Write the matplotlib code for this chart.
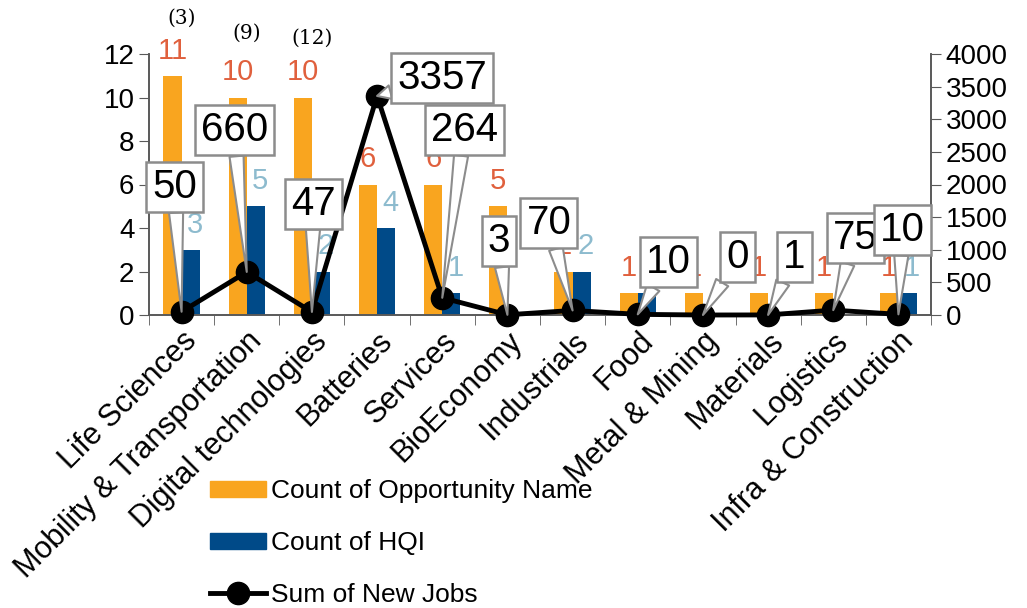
import matplotlib.pyplot as plt
import matplotlib.patches as mpatches
from matplotlib.lines import Line2D
import numpy as np

plt.rcParams['font.family'] = ['Liberation Sans', 'DejaVu Sans']

categories = ["Life Sciences", "Mobility & Transportation", "Digital technologies",
              "Batteries", "Services", "BioEconomy", "Industrials", "Food",
              "Metal & Mining", "Materials", "Logistics", "Infra & Construction"]
opportunities = [11, 10, 10, 6, 6, 5, 2, 1, 1, 1, 1, 1]
hqi = [3, 5, 2, 4, 1, 0, 2, 1, 0, 0, 0, 1]
new_jobs = [50, 660, 47, 3357, 264, 3, 70, 10, 0, 1, 75, 10]
extra_notes = {0: "(3)", 1: "(9)", 2: "(12)"}

# callout offsets in points (dx, dy) from each point
callout_offsets = [(-5, 90), (-9, 102), (1, 78), (47, 13), (16, 121), (-6, 53),
                   (-17, 63), (22, 38), (25, 42), (19, 42), (16, 52), (3, 61)]
note_heights = [13.65, 12.97, 12.74]

orange = "#F9A51F"
blue = "#004A88"
orange_lbl = "#E0603D"
blue_lbl = "#8DBBCE"

fig = plt.figure(figsize=(10.27, 6.08), dpi=100)
ax = fig.add_axes([149 / 1027, 1 - 315 / 608, (931 - 149) / 1027, (315 - 54) / 608])
ax2 = ax.twinx()

x = np.arange(len(categories))
w = 0.28
ax.bar(x - w / 2, opportunities, w, color=orange, zorder=2)
ax.bar(x + w / 2, hqi, w, color=blue, zorder=2)

for i, v in enumerate(opportunities):
    ax.annotate(str(v), (x[i] - w / 2, v), xytext=(0, 8), textcoords="offset points",
                ha="center", va="bottom", fontsize=21, color=orange_lbl)
for i, v in enumerate(hqi):
    if v > 0:
        ax.annotate(str(v), (x[i] + w / 2, v), xytext=(3, 8), textcoords="offset points",
                    ha="center", va="bottom", fontsize=21, color=blue_lbl)

for i, s in extra_notes.items():
    ax.text(x[i], note_heights[i], s, ha="center", va="center", fontsize=14.5,
            family="DejaVu Serif", clip_on=False)

ax.set_ylim(0, 12)
ax.set_yticks(range(0, 13, 2))
ax2.set_ylim(0, 4000)
ax2.set_yticks(range(0, 4001, 500))
ax.set_xlim(-0.5, len(categories) - 0.5)

ax2.plot(x, new_jobs, color="black", lw=3.5, marker="o", markersize=16, zorder=3,
         clip_on=False)

for i, v in enumerate(new_jobs):
    ax2.annotate(str(v), (x[i], v), xytext=callout_offsets[i], textcoords="offset points",
                 ha="center", va="center", fontsize=29, zorder=5,
                 bbox=dict(boxstyle="square,pad=0.15", fc="white", ec="#8C8C8C", lw=1.8),
                 arrowprops=dict(arrowstyle="wedge,tail_width=0.35,shrink_factor=0.5",
                                 fc="white", ec="#8C8C8C", lw=1.5, shrinkA=0, shrinkB=0))

ax.set_xticks(x)
ax.set_xticklabels(categories, rotation=45, ha="right", rotation_mode="anchor", fontsize=22)
ax.set_xticks(np.arange(-0.5, len(categories), 1), minor=True)
ax.tick_params(axis="x", which="major", length=0, pad=8)
ax.tick_params(axis="x", which="minor", length=7, color="#595959")
ax.tick_params(axis="y", labelsize=20, length=7, color="#595959")
ax2.tick_params(axis="y", labelsize=20, length=7, color="#595959")

for a in (ax, ax2):
    a.spines["top"].set_visible(False)
    for s in ("left", "right", "bottom"):
        a.spines[s].set_color("#595959")
        a.spines[s].set_linewidth(1.2)

handles = [mpatches.Patch(color=orange, label="Count of Opportunity Name"),
           mpatches.Patch(color=blue, label="Count of HQI"),
           Line2D([0], [0], color="black", lw=3.5, marker="o", markersize=16,
                  label="Sum of New Jobs")]
fig.legend(handles=handles, loc="upper left", bbox_to_anchor=(192 / 1027, 1 - 461 / 608),
           frameon=False, fontsize=19, labelspacing=1.05, handlelength=2.1,
           handletextpad=0.2, handleheight=0.55, borderpad=0.2)

fig.savefig("out.png", dpi=100)
